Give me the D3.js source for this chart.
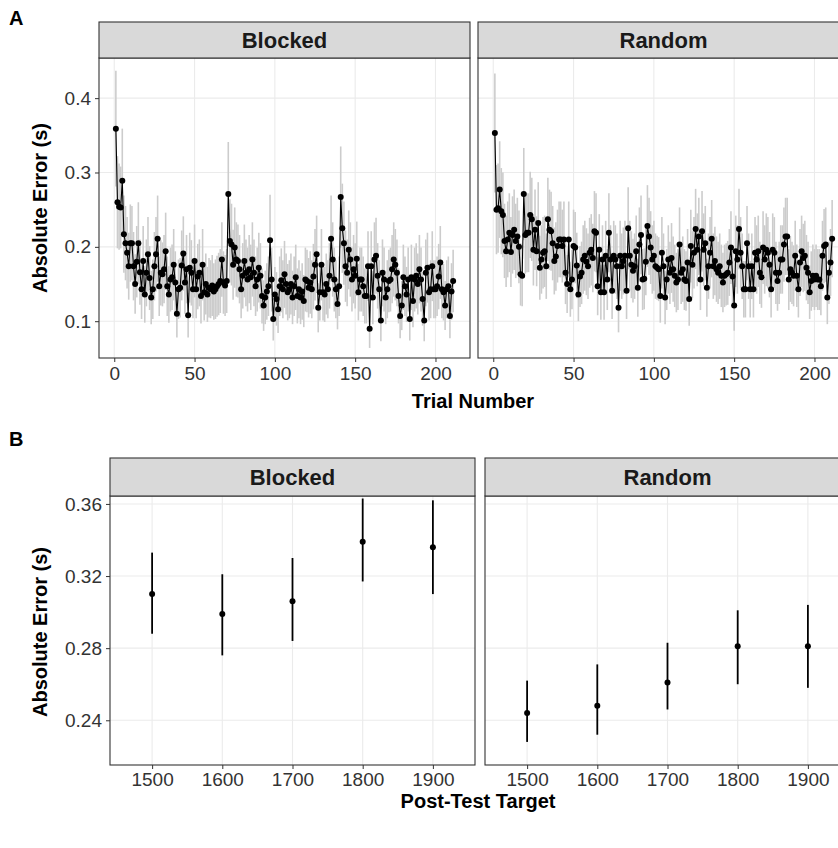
<!DOCTYPE html>
<html><head><meta charset="utf-8">
<script src="https://cdn.jsdelivr.net/npm/d3@7"></script>
<style>
body{margin:0;background:#fff}
svg{display:block}
text{font-family:"Liberation Sans",Arial,sans-serif}
</style>
</head><body>
<svg id="c" width="838" height="848"></svg>
<script>
// ---------------- DATA ----------------
const facets = ["Blocked", "Random"];

const blockedMean = [
0.359,0.260,0.254,0.253,0.289,0.217,0.205,0.192,0.174,0.205,
0.205,0.174,0.150,0.180,0.205,0.166,0.143,0.181,0.136,0.165,
0.190,0.158,0.132,0.143,0.174,0.190,0.211,0.147,0.165,0.163,
0.170,0.194,0.147,0.136,0.156,0.159,0.176,0.152,0.110,0.143,
0.145,0.175,0.191,0.152,0.170,0.108,0.172,0.165,0.143,0.181,
0.143,0.160,0.165,0.134,0.176,0.139,0.150,0.136,0.145,0.143,
0.148,0.140,0.143,0.147,0.150,0.154,0.183,0.152,0.148,0.154,
0.271,0.208,0.203,0.176,0.199,0.183,0.181,0.170,0.143,0.161,
0.181,0.165,0.156,0.170,0.159,0.183,0.165,0.147,0.156,0.172,
0.161,0.134,0.121,0.132,0.140,0.147,0.209,0.156,0.103,0.136,
0.130,0.116,0.147,0.155,0.143,0.163,0.150,0.139,0.143,0.150,
0.132,0.147,0.159,0.134,0.143,0.132,0.140,0.127,0.156,0.154,
0.145,0.152,0.143,0.160,0.176,0.190,0.118,0.139,0.176,0.139,
0.136,0.150,0.143,0.161,0.211,0.183,0.156,0.143,0.123,0.147,
0.267,0.225,0.205,0.174,0.165,0.196,0.183,0.156,0.170,0.161,
0.184,0.139,0.156,0.156,0.147,0.134,0.134,0.174,0.090,0.174,
0.132,0.183,0.188,0.161,0.143,0.101,0.165,0.156,0.132,0.143,
0.154,0.156,0.170,0.183,0.176,0.165,0.134,0.107,0.121,0.159,
0.147,0.136,0.156,0.103,0.159,0.127,0.156,0.161,0.150,0.170,
0.156,0.130,0.101,0.165,0.172,0.139,0.143,0.174,0.143,0.143,
0.147,0.160,0.179,0.143,0.139,0.121,0.143,0.147,0.107,0.140,0.154];

const blockedErr = [
0.078,0.062,0.058,0.055,0.070,0.052,0.050,0.048,0.045,0.052,
0.050,0.046,0.040,0.048,0.055,0.044,0.040,0.047,0.038,0.045,
0.050,0.043,0.036,0.040,0.046,0.050,0.058,0.040,0.044,0.043,
0.046,0.052,0.040,0.038,0.043,0.044,0.048,0.042,0.032,0.040,
0.040,0.047,0.050,0.042,0.046,0.030,0.047,0.044,0.039,0.049,
0.039,0.044,0.045,0.037,0.048,0.038,0.041,0.037,0.040,0.039,
0.041,0.038,0.040,0.041,0.042,0.043,0.050,0.042,0.041,0.043,
0.070,0.056,0.055,0.047,0.054,0.050,0.049,0.046,0.039,0.044,
0.049,0.045,0.043,0.046,0.044,0.050,0.045,0.040,0.043,0.047,
0.044,0.037,0.034,0.036,0.038,0.040,0.061,0.043,0.029,0.037,
0.036,0.032,0.040,0.043,0.039,0.045,0.041,0.038,0.039,0.041,
0.036,0.040,0.044,0.037,0.039,0.036,0.038,0.035,0.043,0.042,
0.040,0.042,0.039,0.044,0.048,0.052,0.033,0.038,0.048,0.038,
0.037,0.041,0.039,0.044,0.058,0.050,0.043,0.039,0.034,0.040,
0.068,0.060,0.056,0.048,0.045,0.053,0.050,0.043,0.046,0.044,
0.050,0.038,0.043,0.043,0.040,0.037,0.037,0.047,0.026,0.047,
0.036,0.050,0.051,0.044,0.039,0.028,0.045,0.043,0.036,0.039,
0.042,0.043,0.046,0.050,0.048,0.045,0.037,0.030,0.033,0.044,
0.040,0.037,0.043,0.029,0.044,0.035,0.043,0.044,0.041,0.046,
0.043,0.036,0.028,0.045,0.047,0.038,0.039,0.047,0.039,0.039,
0.040,0.044,0.049,0.039,0.038,0.033,0.039,0.040,0.030,0.038,0.042];

const randomMean = [
0.353,0.250,0.252,0.277,0.248,0.243,0.208,0.194,0.210,0.219,
0.193,0.216,0.223,0.208,0.214,0.200,0.163,0.161,0.271,0.216,
0.219,0.219,0.243,0.237,0.196,0.223,0.194,0.232,0.172,0.183,
0.192,0.194,0.174,0.237,0.223,0.221,0.205,0.181,0.187,0.201,
0.210,0.210,0.201,0.210,0.165,0.150,0.210,0.143,0.156,0.201,
0.199,0.175,0.136,0.160,0.165,0.183,0.188,0.180,0.174,0.192,
0.196,0.185,0.221,0.219,0.147,0.196,0.139,0.183,0.139,0.188,
0.156,0.219,0.183,0.141,0.188,0.183,0.174,0.118,0.188,0.174,
0.181,0.188,0.141,0.225,0.188,0.176,0.168,0.174,0.194,0.145,
0.203,0.216,0.156,0.157,0.180,0.228,0.214,0.199,0.183,0.188,
0.174,0.172,0.170,0.134,0.192,0.174,0.132,0.156,0.183,0.165,
0.185,0.170,0.161,0.152,0.156,0.203,0.165,0.170,0.156,0.154,
0.179,0.130,0.201,0.176,0.192,0.224,0.196,0.214,0.156,0.221,
0.196,0.205,0.145,0.174,0.192,0.211,0.174,0.181,0.170,0.165,
0.174,0.161,0.152,0.161,0.163,0.165,0.179,0.199,0.160,0.121,
0.194,0.183,0.224,0.192,0.174,0.143,0.143,0.205,0.174,0.143,
0.174,0.143,0.192,0.183,0.194,0.165,0.159,0.199,0.183,0.196,
0.192,0.176,0.143,0.196,0.192,0.165,0.154,0.165,0.183,0.183,
0.203,0.214,0.214,0.156,0.170,0.165,0.161,0.188,0.161,0.143,
0.179,0.194,0.185,0.188,0.172,0.165,0.139,0.154,0.161,0.156,
0.161,0.156,0.156,0.147,0.188,0.201,0.203,0.132,0.165,0.179,0.211];

const randomErr = [
0.080,0.060,0.060,0.065,0.058,0.057,0.050,0.048,0.051,0.053,
0.047,0.052,0.054,0.050,0.052,0.049,0.042,0.041,0.062,0.052,
0.053,0.053,0.058,0.056,0.048,0.054,0.047,0.055,0.043,0.046,
0.048,0.048,0.044,0.056,0.054,0.053,0.050,0.045,0.046,0.049,
0.051,0.051,0.049,0.051,0.042,0.039,0.051,0.037,0.040,0.049,
0.048,0.044,0.036,0.041,0.042,0.046,0.047,0.045,0.044,0.047,
0.048,0.046,0.054,0.053,0.039,0.048,0.037,0.046,0.037,0.047,
0.041,0.053,0.046,0.038,0.047,0.046,0.044,0.033,0.047,0.044,
0.045,0.047,0.038,0.055,0.047,0.045,0.043,0.044,0.048,0.039,
0.050,0.053,0.041,0.041,0.045,0.055,0.052,0.049,0.046,0.047,
0.044,0.043,0.043,0.036,0.048,0.044,0.036,0.041,0.046,0.042,
0.047,0.044,0.042,0.040,0.041,0.050,0.042,0.044,0.041,0.040,
0.045,0.036,0.049,0.045,0.048,0.054,0.049,0.052,0.041,0.054,
0.049,0.050,0.039,0.044,0.048,0.052,0.044,0.046,0.044,0.042,
0.044,0.042,0.040,0.042,0.042,0.043,0.045,0.049,0.042,0.034,
0.048,0.046,0.054,0.048,0.044,0.038,0.038,0.050,0.044,0.038,
0.044,0.038,0.048,0.046,0.048,0.042,0.041,0.049,0.046,0.049,
0.048,0.044,0.038,0.049,0.048,0.042,0.040,0.042,0.046,0.046,
0.050,0.052,0.052,0.041,0.044,0.042,0.041,0.047,0.042,0.038,
0.045,0.048,0.046,0.047,0.044,0.042,0.036,0.040,0.042,0.041,
0.042,0.041,0.041,0.039,0.047,0.050,0.050,0.036,0.042,0.045,0.052];

const trialTicks = [0, 50, 100, 150, 200];
const errorTicksA = [0.1, 0.2, 0.3, 0.4];

const targets = [1500, 1600, 1700, 1800, 1900];
const postBlockedMean = [0.310, 0.299, 0.306, 0.339, 0.336];
const postBlockedLow  = [0.288, 0.276, 0.284, 0.317, 0.310];
const postBlockedHigh = [0.333, 0.321, 0.330, 0.363, 0.362];
const postRandomMean  = [0.244, 0.248, 0.261, 0.281, 0.281];
const postRandomLow   = [0.228, 0.232, 0.246, 0.260, 0.258];
const postRandomHigh  = [0.262, 0.271, 0.283, 0.301, 0.304];
const errorTicksB = [0.24, 0.28, 0.32, 0.36];

// ---------------- DRAW ----------------
const svg = d3.select("#c");
const gridCol = "#ebebeb", borderCol = "#333333", tickTextCol = "#333333";
const TICK_FS = 19, TITLE_FS = 20, STRIP_FS = 22;

function styleAxis(ax) {
  ax.select(".domain").remove();
  ax.selectAll("line").attr("stroke", borderCol);
  ax.selectAll("text").attr("font-size", TICK_FS).attr("fill", tickTextCol)
    .attr("font-family", "Liberation Sans, Arial, sans-serif");
}

function strip(g, x0, x1, stripTop, yTop, label) {
  g.append("rect").attr("x", x0).attr("y", stripTop).attr("width", x1 - x0).attr("height", yTop - stripTop)
    .attr("fill", "#d9d9d9").attr("stroke", borderCol).attr("stroke-width", 1.1);
  g.append("text").attr("x", (x0 + x1) / 2).attr("y", (stripTop + yTop) / 2 + 8)
    .attr("text-anchor", "middle").attr("font-size", STRIP_FS).attr("font-weight", "bold")
    .attr("fill", "#1a1a1a").text(label);
}

// ---------- Panel A ----------
const A = {top: 58, bottom: 358, strip: 22, panels: [[99, 470], [478, 849]]};
const yA = d3.scaleLinear().domain([0.0505, 0.454]).range([A.bottom, A.top]);
const seriesA = [[blockedMean, blockedErr], [randomMean, randomErr]];

seriesA.forEach(([mean, err], i) => {
  const [x0, x1] = A.panels[i];
  const n = mean.length;
  const pad = 0.05 * (n - 1);
  const x = d3.scaleLinear().domain([1 - pad, n + pad]).range([x0, x1]);
  const g = svg.append("g");
  g.append("rect").attr("x", x0).attr("y", A.top).attr("width", x1 - x0).attr("height", A.bottom - A.top).attr("fill", "#fff");
  g.selectAll(".gy").data(errorTicksA).join("line").attr("x1", x0).attr("x2", x1)
    .attr("y1", d => yA(d)).attr("y2", d => yA(d)).attr("stroke", gridCol).attr("stroke-width", 1.1);
  g.selectAll(".gx").data(trialTicks).join("line").attr("y1", A.top).attr("y2", A.bottom)
    .attr("x1", d => x(d)).attr("x2", d => x(d)).attr("stroke", gridCol).attr("stroke-width", 1.1);
  const pts = mean.map((v, k) => ({t: k + 1, v, e: err[k]}));
  g.selectAll(".eb").data(pts).join("line")
    .attr("x1", d => x(d.t)).attr("x2", d => x(d.t))
    .attr("y1", d => yA(d.v - d.e)).attr("y2", d => yA(d.v + d.e))
    .attr("stroke", "#cccccc").attr("stroke-width", 1.6);
  g.append("path").datum(pts).attr("fill", "none").attr("stroke", "#000").attr("stroke-width", 1.1)
    .attr("d", d3.line().x(d => x(d.t)).y(d => yA(d.v)));
  g.selectAll(".pt").data(pts).join("circle").attr("cx", d => x(d.t)).attr("cy", d => yA(d.v))
    .attr("r", 3).attr("fill", "#000");
  g.append("rect").attr("x", x0).attr("y", A.top).attr("width", x1 - x0).attr("height", A.bottom - A.top)
    .attr("fill", "none").attr("stroke", borderCol).attr("stroke-width", 1.1);
  const ax = g.append("g").attr("transform", `translate(0,${A.bottom})`)
    .call(d3.axisBottom(x).tickValues(trialTicks).tickSize(4).tickPadding(5).tickFormat(d3.format("d")));
  styleAxis(ax);
  strip(g, x0, x1, A.strip, A.top, facets[i]);
  if (i === 0) {
    const ay = g.append("g").attr("transform", `translate(${x0},0)`)
      .call(d3.axisLeft(yA).tickValues(errorTicksA).tickSize(4).tickPadding(4).tickFormat(d3.format(".1f")));
    styleAxis(ay);
  }
});

// ---------- Panel B ----------
const B = {top: 496, bottom: 765, strip: 458, panels: [[110, 475], [485, 850]]};
const yB = d3.scaleLinear().domain([0.2152, 0.3644]).range([B.bottom, B.top]);
const seriesB = [[postBlockedMean, postBlockedLow, postBlockedHigh], [postRandomMean, postRandomLow, postRandomHigh]];

seriesB.forEach(([mean, lo, hi], i) => {
  const [x0, x1] = B.panels[i];
  const x = d3.scalePoint().domain(targets).range([x0, x1]).padding(0.6);
  const g = svg.append("g");
  g.append("rect").attr("x", x0).attr("y", B.top).attr("width", x1 - x0).attr("height", B.bottom - B.top).attr("fill", "#fff");
  g.selectAll(".gy").data(errorTicksB).join("line").attr("x1", x0).attr("x2", x1)
    .attr("y1", d => yB(d)).attr("y2", d => yB(d)).attr("stroke", gridCol).attr("stroke-width", 1.1);
  g.selectAll(".gx").data(targets).join("line").attr("y1", B.top).attr("y2", B.bottom)
    .attr("x1", d => x(d)).attr("x2", d => x(d)).attr("stroke", gridCol).attr("stroke-width", 1.1);
  const pts = targets.map((t, k) => ({t, v: mean[k], lo: lo[k], hi: hi[k]}));
  g.selectAll(".eb").data(pts).join("line").attr("x1", d => x(d.t)).attr("x2", d => x(d.t))
    .attr("y1", d => yB(d.lo)).attr("y2", d => yB(d.hi)).attr("stroke", "#000").attr("stroke-width", 1.8);
  g.selectAll(".pt").data(pts).join("circle").attr("cx", d => x(d.t)).attr("cy", d => yB(d.v))
    .attr("r", 3).attr("fill", "#000");
  g.append("rect").attr("x", x0).attr("y", B.top).attr("width", x1 - x0).attr("height", B.bottom - B.top)
    .attr("fill", "none").attr("stroke", borderCol).attr("stroke-width", 1.1);
  const ax = g.append("g").attr("transform", `translate(0,${B.bottom})`)
    .call(d3.axisBottom(x).tickSize(4).tickPadding(4));
  styleAxis(ax);
  strip(g, x0, x1, B.strip, B.top, facets[i]);
  if (i === 0) {
    const ay = g.append("g").attr("transform", `translate(${x0},0)`)
      .call(d3.axisLeft(yB).tickValues(errorTicksB).tickSize(4).tickPadding(4).tickFormat(d3.format(".2f")));
    styleAxis(ay);
  }
});

// ---------- Titles ----------
const tt = (x, y, s, txt, rot) => {
  const t = svg.append("text").attr("x", x).attr("y", y).attr("font-size", s).attr("font-weight", "bold")
    .attr("fill", "#000").attr("text-anchor", "middle").text(txt);
  if (rot) t.attr("transform", `rotate(-90,${x},${y})`);
  return t;
};
tt(473, 408, TITLE_FS, "Trial Number");
tt(478, 808, TITLE_FS, "Post-Test Target");
tt(47, 208, TITLE_FS, "Absolute Error (s)", true);
tt(47, 632, TITLE_FS, "Absolute Error (s)", true);
svg.append("text").attr("x", 9).attr("y", 25).attr("font-size", 20).attr("font-weight", "bold").text("A");
svg.append("text").attr("x", 9).attr("y", 446).attr("font-size", 20).attr("font-weight", "bold").text("B");
</script>
</body></html>
